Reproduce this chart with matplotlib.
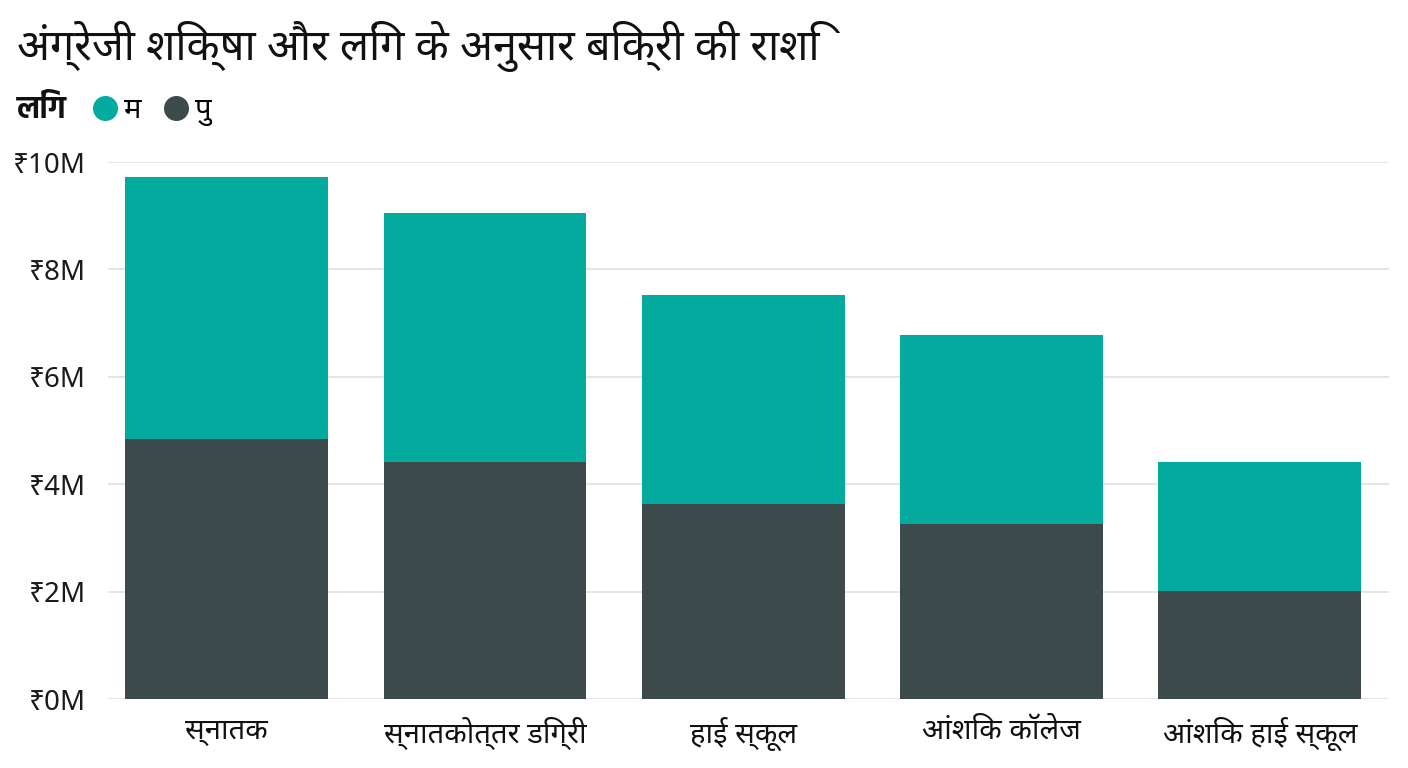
import matplotlib
matplotlib.use("Agg")
import matplotlib.pyplot as plt
from matplotlib.lines import Line2D
import numpy as np

# डेटा (मिलियन ₹ में)
categories = ["स्नातक", "स्नातकोत्तर डिग्री", "हाई स्कूल", "आंशिक कॉलेज", "आंशिक हाई स्कूल"]
male = [4.84, 4.41, 3.63, 3.26, 2.01]      # पु
female = [4.88, 4.64, 3.89, 3.52, 2.40]    # म
yticks = [0, 2, 4, 6, 8, 10]
ytick_labels = ["₹0M", "₹2M", "₹4M", "₹6M", "₹8M", "₹10M"]
legend_labels = ["म", "पु"]

TEAL = "#03AA9E"
DARK = "#3D4A4B"
deva = ["Noto Sans Devanagari", "Hind", "Mukta", "Ek Mukta", "Noto Sans", "DejaVu Sans"]
deva_bold = ["Hind", "Ek Mukta", "Noto Sans Devanagari", "DejaVu Sans"]
latin = ["Noto Sans", "Noto Sans Devanagari", "DejaVu Sans"]

plt.rcParams["font.family"] = deva

fig = plt.figure(figsize=(14.08, 7.68), dpi=100)
ax = fig.add_axes([0.0767, 0.0898, 0.9098, 0.6992])

x = np.arange(len(categories))
ax.bar(x, male, width=0.785, color=DARK, zorder=3)
ax.bar(x, female, width=0.785, bottom=male, color=TEAL, zorder=3)

ax.set_xlim(-0.46, 4.5)
ax.set_ylim(0, 10)
ax.set_yticks(yticks)
ax.set_yticklabels(ytick_labels, family=latin, fontsize=20, color="#1a1a1a")
ax.set_xticks(x)
ax.set_xticklabels(categories, fontsize=21, color="#111111")
ax.tick_params(axis="y", length=0, pad=16)
ax.tick_params(axis="x", length=0, pad=13)
ax.grid(axis="y", color="#E3E3E3", linewidth=1.3, zorder=0)
for s in ax.spines.values():
    s.set_visible(False)

# शीर्षक
fig.text(0.012, 0.94, "अंग्रेजी शिक्षा और लिंग के अनुसार बिक्री की राशि",
         fontsize=31, color="#111111", va="center", ha="left")

# लेजेंड
fig.text(0.012, 0.857, "लिंग", fontsize=22, fontweight="bold", family=deva_bold,
         color="#111111", va="center", ha="left")
handles = [Line2D([], [], marker="o", linestyle="", markersize=17, color=c)
           for c in (TEAL, DARK)]
fig.legend(handles, legend_labels, ncol=2, loc="center left",
           bbox_to_anchor=(0.064, 0.855), frameon=False, fontsize=21,
           handletextpad=0.15, columnspacing=0.7, handlelength=1.0,
           borderaxespad=0, borderpad=0)

fig.savefig("out.png", dpi=100, facecolor="white")
